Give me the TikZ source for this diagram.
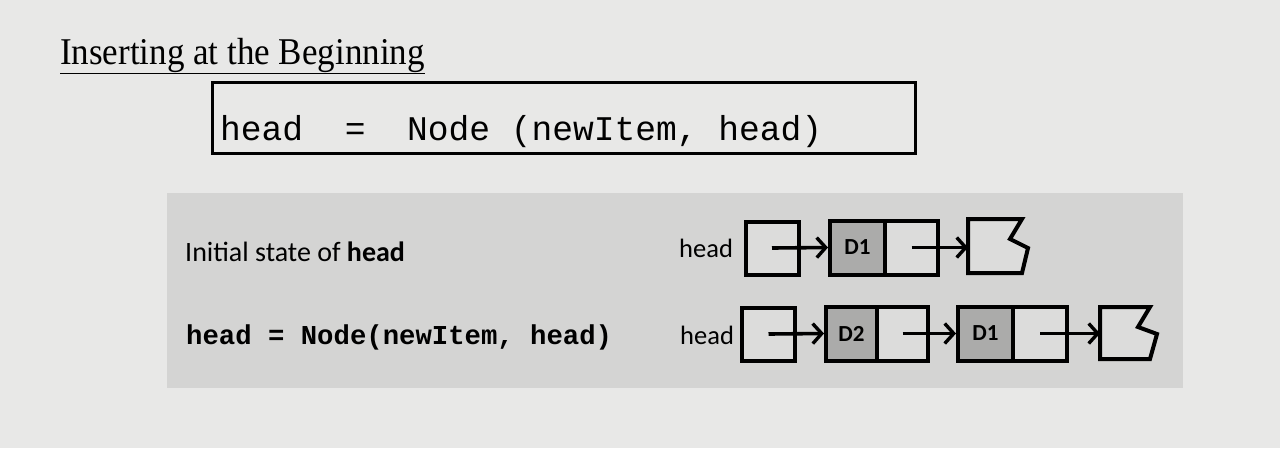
\documentclass[tikz,border=0pt]{standalone}
\usepackage{fontspec}
\setmainfont{Liberation Serif}
\setmonofont{Liberation Mono}
\newfontfamily\labelfont{Carlito}
\usetikzlibrary{arrows.meta}
\definecolor{paper}{HTML}{E8E8E7}
\definecolor{panel}{HTML}{D4D4D3}
\definecolor{cellfill}{HTML}{DCDCDB}
\definecolor{datafill}{HTML}{ABABAA}
\tikzset{
  x=1pt, y=-1pt,
  cell/.style={draw=black, line width=4pt, fill=cellfill},
  datacell/.style={draw=black, line width=4pt, fill=datafill},
  link/.style={line width=3.6pt, -{Straight Barb[length=9pt,width=20pt,line width=3.4pt]}},
  lbl/.style={font=\labelfont\fontsize{28}{28}\selectfont, inner sep=0pt, anchor=west},
  headlbl/.style={font=\labelfont\fontsize{26.5}{26}\selectfont, inner sep=0pt, anchor=west},
  datalbl/.style={font=\labelfont\bfseries\fontsize{23}{23}\selectfont, inner sep=0pt},
}
\begin{document}
\begin{tikzpicture}
\useasboundingbox (0,0) rectangle (1280,448);
\fill[paper] (0,0) rectangle (1280,448);
\fill[panel] (167,193) rectangle (1183,388);

% heading
\node[anchor=base west, inner sep=0pt, yscale=1.08, font=\fontsize{35}{35}\selectfont] (title) at (60,64)
  {\underline{Inserting at the Beginning}};

% statement box
\draw[line width=3pt] (212,82) rectangle (915,153);
\node[anchor=west, inner sep=0pt, font=\ttfamily\fontsize{34.6}{34}\selectfont] (stmt) at (220,132)
  {head\ \ =\ \ Node (newItem, head)};

% captions in the panel
\node[lbl] (cap1) at (185,252) {Initial state of \textbf{head}};
\node[anchor=west, inner sep=0pt, font=\ttfamily\bfseries\fontsize{27.3}{27}\selectfont] (cap2) at (186,337)
  {head = Node(newItem, head)};

% ---- row 1: initial list ----
\node[headlbl] (h1) at (679,248) {head};
\node[cell, minimum width=53pt, minimum height=53pt, inner sep=0pt] (p1) at (772,248) {};
\node[datacell, minimum width=55pt, minimum height=54pt, inner sep=0pt] (a1) at (857.5,247.5) {};
\node[cell, minimum width=53pt, minimum height=54pt, inner sep=0pt] (b1) at (911.5,247.5) {};
\node[datalbl] at (a1.center) {D1};
\draw[cell] (968,219) -- (1022,219) -- (1010,239) -- (1028,248) -- (1022,273) -- (968,273) -- cycle;
\coordinate (r1) at (968,247.5);
\draw[link] (p1.center) -- (a1.west);
\draw[link] (b1.center) -- (r1);

% ---- row 2: after inserting D2 ----
\node[headlbl] (h2) at (680,335) {head};
\node[cell, minimum width=53pt, minimum height=53pt, inner sep=0pt] (p2) at (768.5,334) {};
\node[datacell, minimum width=51pt, minimum height=54pt, inner sep=0pt] (a2) at (851.5,333.5) {};
\node[cell, minimum width=51pt, minimum height=54pt, inner sep=0pt] (b2) at (902.5,333.5) {};
\node[datalbl] at (a2.center) {D2};
\node[datacell, minimum width=55pt, minimum height=54pt, inner sep=0pt] (a3) at (985.5,333.5) {};
\node[cell, minimum width=54pt, minimum height=54pt, inner sep=0pt] (b3) at (1040,333.5) {};
\node[datalbl] at (a3.center) {D1};
\draw[cell] (1100,307) -- (1150,307) -- (1138,327) -- (1157,334) -- (1150,359) -- (1100,359) -- cycle;
\coordinate (r2) at (1100,333.5);
\draw[link] (p2.center) -- (a2.west);
\draw[link] (b2.center) -- (a3.west);
\draw[link] (b3.center) -- (r2);
\end{tikzpicture}
\end{document}
